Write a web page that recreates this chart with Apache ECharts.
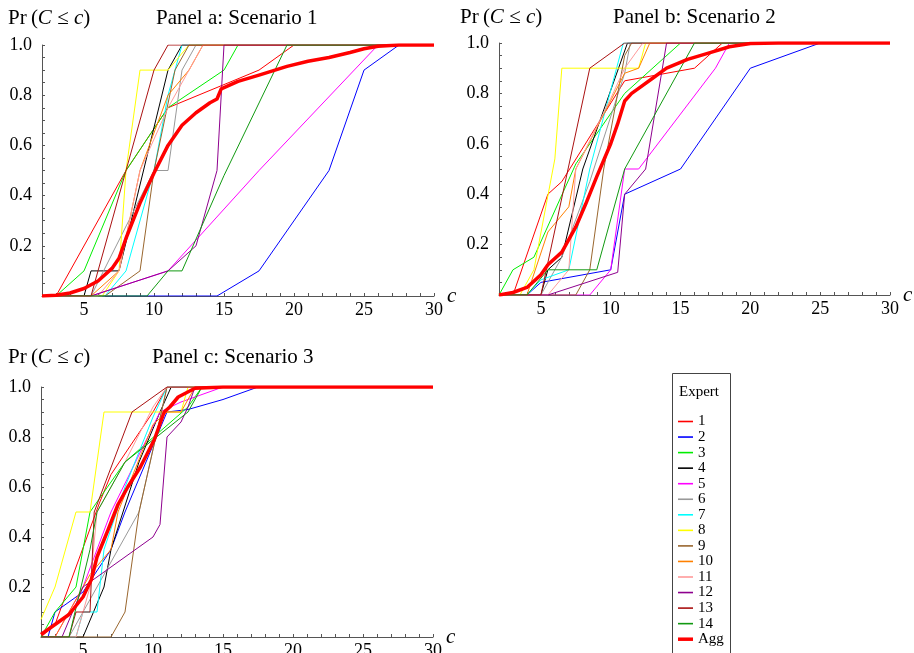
<!DOCTYPE html>
<html>
<head>
<meta charset="utf-8">
<script src="https://cdn.jsdelivr.net/npm/echarts@6/dist/echarts.min.js"></script>
<style>html,body{margin:0;padding:0;background:#fff}#c{width:914px;height:653px}</style>
</head>
<body>
<div id="c"></div>
<script>
// ---- data ----
const expertNames = ['1','2','3','4','5','6','7','8','9','10','11','12','13','14'];
const expertColors = ['#ff0000','#0000ff','#00ee00','#000000','#ff00ff','#999999','#00ffff','#ffff00','#99662e','#ff8000','#ff9a9a','#8e008e','#aa1111','#119911'];
const xTicks = [5,10,15,20,25,30];
const yTicks = [0.2,0.4,0.6,0.8,1.0];

// Panel a: Scenario 1
const A1 = [[2,0],[3,0],[8,0.5],[11,0.75],[17.5,0.9],[20,1],[30,1]];
const A2 = [[2,0],[14.5,0],[17.5,0.1],[22.5,0.5],[25,0.9],[27.5,1],[30,1]];
const A3 = [[2,0],[3,0],[5,0.1],[8,0.5],[11,0.75],[15,0.9],[16,1],[30,1]];
const A4 = [[2,0],[5,0],[5.5,0.1],[7.5,0.1],[11,0.9],[12,1],[30,1]];
const A5 = [[2,0],[5.5,0],[11,0.1],[17.5,0.5],[26,1],[30,1]];
const A6 = [[2,0],[5.5,0],[10,0.5],[11,0.5],[12,0.9],[13,1],[30,1]];
const A7 = [[2,0],[6.5,0],[8,0.1],[10,0.5],[11,0.8],[12,1],[30,1]];
const A8 = [[2,0],[6.3,0],[7.5,0.1],[8,0.5],[9,0.9],[11,0.9],[12.5,1],[30,1]];
const A9 = [[2,0],[6.5,0],[9,0.1],[10,0.5],[11.5,0.9],[12.5,1],[30,1]];
const A10 = [[2,0],[5.5,0],[7.5,0.1],[9,0.5],[11,0.8],[12.5,0.9],[13.5,1],[30,1]];
const A11 = [[2,0],[6,0],[7.5,0.1],[9,0.5],[11,0.75],[13.5,1],[30,1]];
const A12 = [[2,0],[5.5,0],[11,0.1],[13,0.2],[14.5,0.5],[15,1],[30,1]];
const A13 = [[2,0],[5.5,0],[10,0.9],[11,1],[30,1]];
const A14 = [[2,0],[9.5,0],[11,0.1],[12,0.1],[15,0.48],[19.5,1],[30,1]];
const AAgg = [[2,0],[3,0.003],[4,0.012],[5,0.03],[6,0.06],[7,0.11],[7.5,0.15],[8,0.23],[8.5,0.3],[9,0.37],[10,0.49],[11,0.6],[12,0.68],[13,0.73],[14,0.77],[14.5,0.785],[14.8,0.825],[16,0.855],[17.5,0.88],[19.5,0.915],[21,0.935],[22.5,0.95],[24,0.97],[25,0.985],[26,0.995],[27.5,1],[30,1]];

// Panel b: Scenario 2
const B1 = [[2,0],[3,0],[5.5,0.4],[6.5,0.45],[11,0.85],[16,0.9],[18,1],[30,1]];
const B2 = [[2,0],[4,0],[5,0.05],[10,0.1],[11,0.4],[15,0.5],[20,0.9],[25,1],[30,1]];
const B3 = [[2,0],[3,0.1],[4.5,0.15],[7.5,0.52],[11,0.8],[15,1],[30,1]];
const B4 = [[2,0],[5,0],[5.5,0.1],[6.5,0.15],[8,0.5],[11.2,1],[30,1]];
const B5 = [[2,0],[8.5,0],[10,0.1],[11,0.5],[12,0.5],[17.5,0.9],[18.5,1],[30,1]];
const B6 = [[2,0],[5,0],[6.5,0.15],[8.5,0.45],[11,0.88],[11.4,1],[30,1]];
const B7 = [[2,0],[4,0],[5,0.06],[7,0.1],[8.5,0.5],[10.9,1],[30,1]];
const B8 = [[2,0],[3.5,0],[4.5,0.1],[6,0.54],[6.5,0.9],[12,0.9],[12.5,1],[30,1]];
const B9 = [[2,0],[7.5,0],[8.5,0.1],[9.5,0.5],[11,0.95],[11.5,1],[30,1]];
const B10 = [[2,0],[4,0],[5.5,0.25],[7,0.35],[7.5,0.5],[11,0.88],[12,0.9],[12.8,1],[30,1]];
const B11 = [[2,0],[5.5,0],[7,0.1],[7.5,0.5],[10,0.78],[11,0.9],[12.3,1],[30,1]];
const B12 = [[2,0],[5.5,0],[10.5,0.09],[11,0.4],[12.5,0.5],[14,1],[30,1]];
const B13 = [[2,0],[5,0],[8.5,0.9],[11,1],[30,1]];
const B14 = [[2,0],[4,0],[5.5,0.1],[9,0.1],[11,0.5],[16,1],[30,1]];
const BAgg = [[2,0],[3,0.01],[4,0.03],[5,0.08],[5.5,0.12],[6.5,0.17],[7.5,0.27],[8.2,0.36],[9,0.47],[10,0.6],[10.5,0.68],[11,0.77],[11.5,0.8],[12,0.82],[13,0.86],[14,0.9],[15.5,0.935],[17,0.96],[18.5,0.985],[20,0.998],[22,1],[30,1]];

// Panel c: Scenario 3
const C1 = [[2,0],[3,0.05],[6.2,0.54],[7,0.65],[10,0.9],[11,1],[30,1]];
const C2 = [[2,0],[2.5,0],[3,0.1],[5,0.18],[7,0.35],[8,0.5],[11,0.9],[12.5,0.91],[15,0.95],[17.5,1],[30,1]];
const C3 = [[2,0],[3,0.1],[4.5,0.2],[5.5,0.5],[8,0.7],[12.5,0.92],[13.5,1],[30,1]];
const C4 = [[2,0],[5,0],[6.5,0.2],[7,0.35],[9,0.7],[10.5,0.9],[11.3,1],[30,1]];
const C5 = [[2,0],[3,0],[5,0.2],[7,0.5],[10.5,0.9],[12,0.94],[15,1],[30,1]];
const C6 = [[2,0],[4,0],[6,0.2],[9,0.5],[11,1],[30,1]];
const C7 = [[2,0],[4.5,0],[5,0.1],[6,0.1],[6.5,0.35],[8,0.6],[10,0.88],[11,1],[30,1]];
const C8 = [[2,0.07],[3,0.2],[4.5,0.5],[5.5,0.5],[6.5,0.9],[12,0.9],[12.5,1],[30,1]];
const C9 = [[2,0],[7,0],[8,0.1],[9,0.5],[11,1],[30,1]];
const C10 = [[2,0],[3,0],[4,0.1],[5.5,0.25],[7,0.35],[7.5,0.5],[10,0.85],[11,0.9],[12,0.9],[13,1],[30,1]];
const C11 = [[2,0],[4.5,0],[5.5,0.2],[6,0.5],[8,0.7],[10,0.92],[11,1],[30,1]];
const C12 = [[2,0],[3.5,0],[5,0.2],[10,0.4],[10.5,0.45],[11,0.8],[12,0.86],[12.5,0.92],[13,1],[30,1]];
const C13 = [[2,0],[4,0],[4.5,0.1],[5.5,0.1],[5.8,0.5],[8.5,0.9],[11,1],[30,1]];
const C14 = [[2,0],[4,0],[5.5,0.35],[6,0.5],[8,0.7],[12.5,0.9],[13.5,1],[30,1]];
const CAgg = [[2,0.01],[3,0.05],[4,0.09],[5,0.16],[5.6,0.23],[6,0.32],[6.8,0.43],[7.5,0.53],[8.2,0.6],[9.1,0.68],[10.1,0.79],[10.8,0.9],[11.2,0.92],[11.8,0.96],[13,0.995],[15,1],[30,1]];

const panelTitles = ['Panel a: Scenario 1','Panel b: Scenario 2','Panel c: Scenario 3'];
const panelData = [
  [A1,A2,A3,A4,A5,A6,A7,A8,A9,A10,A11,A12,A13,A14],
  [B1,B2,B3,B4,B5,B6,B7,B8,B9,B10,B11,B12,B13,B14],
  [C1,C2,C3,C4,C5,C6,C7,C8,C9,C10,C11,C12,C13,C14]
];
const panelAgg = [AAgg,BAgg,CAgg];

// ---- layout ----
const FONT = 'Liberation Serif, Times New Roman, serif';
const grids = [
  {left:42, top:45, width:392, height:251},
  {left:499, top:43, width:391, height:252},
  {left:41, top:387, width:392, height:250}
];
const labelPos = [
  {yl:[8,18], t:[156,18]},
  {yl:[460,17], t:[613,17]},
  {yl:[8,357], t:[152,357]}
];

const xAxes = grids.map((g,i)=>({
  type:'value', gridIndex:i, min:2, max:30, interval:1,
  name:'c', nameLocation:'end', nameGap:9,
  nameTextStyle:{fontFamily:FONT, fontStyle:'italic', fontSize:21, color:'#000', verticalAlign:'middle'},
  axisLine:{show:true, onZero:true, lineStyle:{color:'#555', width:1}},
  axisTick:{show:true, inside:true, length:3, interval:0, lineStyle:{color:'#555'}},
  axisLabel:{show:true, interval:0, margin:5, fontFamily:FONT, fontSize:18, color:'#000',
    formatter:v=> xTicks.indexOf(v)>=0 ? String(v) : ''},
  splitLine:{show:false}
}));
const yAxes = grids.map((g,i)=>({
  type:'value', gridIndex:i, min:0, max:1, interval:0.05,
  axisLine:{show:true, lineStyle:{color:'#555', width:1}},
  axisTick:{show:true, inside:true, length:3, interval:0, lineStyle:{color:'#555'}},
  axisLabel:{show:true, interval:0, margin:10, fontFamily:FONT, fontSize:18, color:'#000',
    formatter:v=>{ const k=Math.round(v*100)/100; return yTicks.some(t=>Math.abs(t-k)<1e-6) ? k.toFixed(1) : ''; }},
  splitLine:{show:false}
}));

const series = [];
panelData.forEach((exps,pi)=>{
  exps.forEach((d,ei)=>{
    series.push({type:'line', name:expertNames[ei], xAxisIndex:pi, yAxisIndex:pi, data:d,
      symbol:'none', silent:true, z:2+ei*0.01,
      lineStyle:{width:1, color:expertColors[ei]}, itemStyle:{color:expertColors[ei]}});
  });
  series.push({type:'line', name:'Agg', xAxisIndex:pi, yAxisIndex:pi, data:panelAgg[pi],
    symbol:'none', silent:true, z:5,
    lineStyle:{width:3.5, color:'#ff0000', join:'round'}, itemStyle:{color:'#ff0000'}});
});

const thinIcon = 'path://M0,0L15,0L15,1.6L0,1.6Z';
const thickIcon = 'path://M0,0L15,0L15,3.5L0,3.5Z';
const legendData = expertNames.map(n=>({name:n, icon:thinIcon})).concat([{name:'Agg', icon:thickIcon}]);

const graphic = [];
labelPos.forEach((p,i)=>{
  graphic.push({type:'text', x:p.yl[0], y:p.yl[1], silent:true, style:{
    text:'{n|Pr\u2009(}{i|C}{n| \u2264 }{i|c}{n|)}', fill:'#000', verticalAlign:'middle', align:'left',
    rich:{n:{fontFamily:FONT, fontSize:21, fill:'#000'}, i:{fontFamily:FONT, fontSize:21, fontStyle:'italic', fill:'#000'}}
  }});
  graphic.push({type:'text', x:p.t[0], y:p.t[1], silent:true, style:{
    text:panelTitles[i], fill:'#000', verticalAlign:'middle', align:'left',
    font:'21px '+FONT
  }});
});
graphic.push({type:'rect', silent:true, shape:{x:672.5, y:373.5, width:58, height:300},
  style:{fill:'none', stroke:'#444', lineWidth:1}});
graphic.push({type:'text', x:679, y:392, silent:true, style:{text:'Expert', fill:'#000', verticalAlign:'middle', align:'left', font:'15px '+FONT}});

const option = {
  animation:false,
  backgroundColor:'#fff',
  grid: grids.map(g=>Object.assign({containLabel:false, outerBoundsMode:'none'}, g)),
  xAxis: xAxes,
  yAxis: yAxes,
  legend:{
    show:true, orient:'vertical', left:678, top:414, height:300, padding:0,
    itemWidth:15, itemHeight:14, itemGap:0.55, selectedMode:false,
    data: legendData,
    textStyle:{fontFamily:FONT, fontSize:15, color:'#000', lineHeight:14}
  },
  graphic: graphic,
  series: series
};
const chart = echarts.init(document.getElementById('c'), null, {renderer:'canvas'});
chart.setOption(option);
</script>
</body>
</html>
